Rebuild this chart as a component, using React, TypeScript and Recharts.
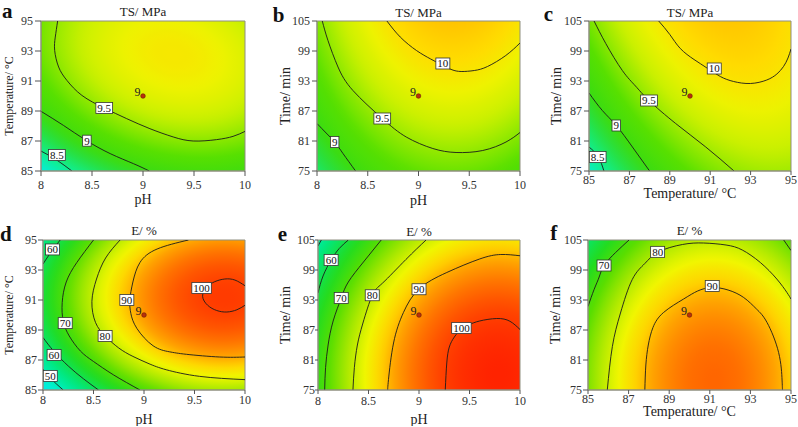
import { CartesianGrid, ComposedChart, Line, ReferenceArea, Scatter, XAxis, YAxis } from 'recharts'

type Pt = { x: number; y: number }
type Tag = { x: number; y: number; label: string }

const pts = (rows: number[][]): Pt[] => rows.map(([x, y]) => ({ x, y }))
const tags = (rows: [number, number, string][]): Tag[] => rows.map(([x, y, label]) => ({ x, y, label }))

const pHTicks = [8, 8.5, 9, 9.5, 10]
const tempTicks = [85, 87, 89, 91, 93, 95]
const timeTicks = [75, 81, 87, 93, 99, 105]

// design centre point (9 replicates)
const centrePhTemp = [{ x: 9, y: 90, n: 9 }]
const centrePhTime = [{ x: 9, y: 90, n: 9 }]
const centreTempTime = [{ x: 90, y: 90, n: 9 }]

// a: TS / MPa, pH x temperature
const tsPhTemp95 = pts([[8.163, 95], [8.14, 93.93], [8.134, 93.04], [8.173, 91.93], [8.254, 91.04], [8.401, 90.04], [8.619, 89.2], [8.84, 88.49], [9.068, 87.82], [9.296, 87.27], [9.492, 87.0], [9.72, 87.09], [9.883, 87.31], [10, 87.64]])
const tsPhTemp90 = pts([[8, 88.98], [8.22, 88.04], [8.443, 87.04], [8.678, 86.16], [8.906, 85.49], [9.062, 85]])
const tsPhTemp85 = pts([[8, 86.33], [8.15, 85.75], [8.303, 85]])
const tsPhTempTags = tags([[8.62, 89.2, '9.5'], [8.45, 87.02, '9'], [8.156, 86.07, '8.5']])

// b: TS / MPa, pH x time
const tsPhTime100 = pts([[8.689, 105], [8.82, 101.8], [8.98, 99.1], [9.12, 97.4], [9.24, 96.1], [9.33, 95.25], [9.42, 94.9], [9.55, 95.1], [9.68, 95.9], [9.86, 98.1], [10, 100.6]])
const tsPhTime95 = pts([[8.052, 105], [8.108, 101.1], [8.207, 95.8], [8.354, 91.1], [8.643, 85.5], [8.879, 81.8], [9.141, 79.5], [9.37, 78.7], [9.633, 79.1], [9.862, 80.8], [10, 82.7]])
const tsPhTime90 = pts([[8, 84.5], [8.09, 82.6], [8.174, 80.8], [8.256, 78.5], [8.38, 75]])
const tsPhTimeTags = tags([[9.24, 96.5, '10'], [8.643, 85.5, '9.5'], [8.174, 80.8, '9']])

// c: TS / MPa, temperature x time
const tsTempTime100 = pts([[88.45, 105], [89.0, 102.3], [89.52, 99.5], [90.2, 97.3], [90.84, 95.6], [91.5, 93.9], [92.16, 92.9], [92.99, 92.5], [93.8, 93.2], [94.3, 94.4], [94.63, 95.9], [94.85, 97.6], [95, 99.4]])
const tsTempTime95 = pts([[85.25, 105], [85.83, 100.5], [86.65, 95.1], [87.3, 92.0], [87.97, 89.1], [89.29, 84.5], [90.78, 79.8], [92.18, 75]])
const tsTempTime90 = pts([[85, 90.6], [85.66, 87.1], [86.35, 84.1], [87.15, 79.8], [88, 75]])
const tsTempTime85 = pts([[85, 79.8], [85.45, 77.9], [85.74, 75]])
const tsTempTimeTags = tags([[91.2, 95.5, '10'], [87.97, 89.1, '9.5'], [86.35, 84.1, '9'], [85.43, 77.8, '8.5']])

// d: E / %, pH x temperature
const ePhTemp100 = pts([[10, 91.95], [9.9, 92.33], [9.8, 92.4], [9.7, 92.22], [9.62, 91.85], [9.58, 91.25], [9.63, 90.65], [9.72, 90.3], [9.82, 90.2], [9.92, 90.35], [10, 90.65]])
const ePhTemp90 = pts([[9.44, 95], [9.13, 94.4], [8.96, 93.5], [8.89, 92.2], [8.86, 91.0], [8.87, 90.1], [8.93, 89.1], [9.09, 87.95], [9.25, 87.55], [9.42, 87.38], [9.75, 87.2], [10, 87.2]])
const ePhTemp80 = pts([[8.763, 95], [8.62, 93.8], [8.53, 92.4], [8.484, 90.9], [8.52, 89.5], [8.615, 88.6], [8.75, 87.8], [8.89, 87.24], [9.05, 86.75], [9.22, 86.35], [9.55, 85.91], [10, 85.69]])
const ePhTemp70 = pts([[8.5, 95], [8.335, 93.5], [8.23, 92.2], [8.19, 90.83], [8.2, 89.6], [8.26, 88.6], [8.37, 87.6], [8.5, 86.9], [8.7, 86.0], [8.96, 85]])
const ePhTemp60a = pts([[8, 93.4], [8.08, 94.2], [8.17, 95]])
const ePhTemp60b = pts([[8, 88.5], [8.105, 87.6], [8.25, 86.6], [8.4, 85.75], [8.55, 85]])
const ePhTemp50 = pts([[8, 86.4], [8.08, 85.75], [8.2, 85]])
const ePhTempTags = tags([[9.57, 91.8, '100'], [8.83, 91.0, '90'], [8.615, 88.6, '80'], [8.22, 89.46, '70'], [8.095, 94.37, '60'], [8.11, 87.34, '60'], [8.072, 85.94, '50']])

// e: E / %, pH x time
const ePhTime100 = pts([[10, 87.1], [9.9, 88.75], [9.77, 89.3], [9.6, 88.8], [9.5, 88.1], [9.42, 87.2], [9.35, 85.6], [9.3, 83.6], [9.275, 80.4], [9.26, 75]])
const ePhTime90 = pts([[10, 101.85], [9.81, 102.1], [9.6, 101.2], [9.275, 98.5], [9.0, 95.2], [8.846, 90.5], [8.748, 84.4], [8.698, 77.1], [8.69, 75]])
const ePhTime80 = pts([[9.07, 105], [8.87, 101.1], [8.64, 96.4], [8.537, 93.95], [8.445, 88.4], [8.39, 84], [8.36, 79.5], [8.346, 75]])
const ePhTime70 = pts([[8.626, 105], [8.45, 100.6], [8.3, 96.6], [8.23, 93.4], [8.15, 88.8], [8.1, 84], [8.075, 79.5], [8.066, 75]])
const ePhTime60 = pts([[8, 94.4], [8.05, 97.8], [8.13, 101], [8.21, 103.3], [8.3, 105]])
const ePhTime50 = pts([[8, 103.8], [8.033, 105]])
const ePhTimeTags = tags([[9.42, 87.4, '100'], [9.0, 95.15, '90'], [8.537, 93.95, '80'], [8.23, 93.4, '70'], [8.13, 101, '60']])

// f: E / %, temperature x time
const eTempTime90 = pts([[87.8, 75], [87.85, 80], [87.97, 84], [88.2, 87.5], [88.72, 90.5], [89.71, 93.2], [90.4, 94.8], [91.1, 95.5], [91.9, 95.0], [92.67, 93.5], [93.3, 91.2], [93.82, 88.5], [94.39, 82.5], [94.56, 77], [94.58, 75]])
const eTempTime80 = pts([[85.95, 75], [86.2, 83.7], [86.6, 90.4], [87.18, 97.1], [87.8, 100.3], [88.46, 102.6], [89.65, 104.1], [90.69, 104.4], [91.8, 104.0], [92.6, 103], [93.49, 100.5], [94.3, 97.2], [94.8, 94.5], [95, 93.2]])
const eTempTime70a = pts([[85, 91.7], [85.3, 95.1], [85.55, 97.6], [85.79, 99.9], [86.36, 102.5], [87.02, 105]])
const eTempTime70b = pts([[94.64, 105], [95, 102.9]])
const eTempTimeTags = tags([[88.43, 102.63, '80'], [91.12, 95.8, '90'], [85.79, 99.9, '70']])

// colour ramps (response value -> colour)
type Ramp = [number, string][]
const tsRamp: Ramp = [[8.1, '#00eef0'], [8.5, '#10ee90'], [8.8, '#28e040'], [9.0, '#3cdc10'], [9.3, '#58e000'], [9.5, '#8ee800'], [9.7, '#c8f000'], [9.9, '#eef200'], [10.05, '#ffdc00'], [10.2, '#ffc000'], [10.3, '#ffae00']]
const eRamp: Ramp = [[35, '#00e4ff'], [45, '#00f0d0'], [55, '#00e880'], [65, '#22dc20'], [72, '#5ade00'], [78, '#a8e800'], [84, '#f0f600'], [88, '#ffd400'], [91, '#ffa800'], [95, '#ff7800'], [100, '#ff4000'], [104, '#ff1e00']]

const FONT = '"Liberation Serif", "Times New Roman", serif'
const W = 266
const H = 213
const FRAME = '#8f8f80'

function hexRgb(h: string) {
  const n = parseInt(h.slice(1), 16)
  return [n >> 16, (n >> 8) & 255, n & 255]
}

function rampColor(ramp: Ramp, v: number) {
  if (v <= ramp[0][0]) return ramp[0][1]
  for (let i = 1; i < ramp.length; i++) {
    if (v <= ramp[i][0]) {
      const t = (v - ramp[i - 1][0]) / (ramp[i][0] - ramp[i - 1][0])
      const a = hexRgb(ramp[i - 1][1])
      const b = hexRgb(ramp[i][1])
      return `rgb(${a.map((c, j) => Math.round(c + (b[j] - c) * t)).join(',')})`
    }
  }
  return ramp[ramp.length - 1][1]
}

type Grad = { cx: number; cy: number; ax: number[]; ay: number[]; r: number; peak: number; drop: number }

function Surface({ id, g, ramp }: { id: string; g: Grad; ramp: Ramp }) {
  const n = 40
  const m = [g.ax[0] * g.r, g.ax[1] * g.r, g.ay[0] * g.r, g.ay[1] * g.r, g.cx, g.cy].join(' ')
  return (
    <radialGradient id={id} gradientUnits="objectBoundingBox" cx={0} cy={0} r={1} gradientTransform={`matrix(${m})`}>
      {Array.from({ length: n + 1 }, (_, i) => {
        const k = (i / n) * g.r
        return <stop key={i} offset={i / n} stopColor={rampColor(ramp, g.peak - k * k * g.drop)} />
      })}
    </radialGradient>
  )
}

function tagWidth(s: string) {
  let w = 0
  for (const ch of s) w += ch === '.' ? 2.75 : 5.5
  return w + 3
}

function ContourTag(props: any) {
  const { cx, cy, payload } = props
  const w = tagWidth(payload.label)
  return (
    <g>
      <rect x={cx - w / 2} y={cy - 5.5} width={w} height={11} fill="#fff" stroke="#333" strokeWidth={0.8} />
      <text x={cx} y={cy + 3.8} textAnchor="middle" fontSize={11} fontFamily={FONT} fill="#111">
        {payload.label}
      </text>
    </g>
  )
}

function CentrePoint(props: any) {
  const { cx, cy, payload } = props
  return (
    <g>
      <circle cx={cx} cy={cy} r={2.3} fill="#b8300c" stroke="#6a1a05" strokeWidth={0.6} />
      <text x={cx - 2.5} y={cy - 0.5} textAnchor="end" fontSize={12} fontFamily={FONT} fill="#222">
        {payload.n}
      </text>
    </g>
  )
}

type PanelSpec = {
  key: string
  pos: [number, number]
  box: { l: number; r: number; t: number; b: number }
  letter: [string, number, number]
  title: [string, number]
  xLabel: [string, number]
  yLabel: [string, number, number]
  xDomain: [number, number]
  yDomain: [number, number]
  xTicks: number[]
  yTicks: number[]
  xTick: [number, number]
  yTick: [number, number]
  lines: Pt[][]
  tags: Tag[]
  centre: { x: number; y: number; n: number }[]
  ramp: Ramp
  grad: Grad
}

const panels: PanelSpec[] = [
  {
    key: 'a', pos: [0, 0], box: { l: 41, r: 245, t: 21, b: 171 },
    letter: ['a', 2, 18.3], title: ['TS/ MPa', 16], xLabel: ['pH', 204], yLabel: ['Temperature/ °C', 12, 13],
    xDomain: [8, 10], yDomain: [85, 95], xTicks: pHTicks, yTicks: tempTicks, xTick: [5, 4], yTick: [6, 2],
    lines: [tsPhTemp95, tsPhTemp90, tsPhTemp85], tags: tsPhTempTags, centre: centrePhTemp, ramp: tsRamp,
    grad: { cx: 0.65, cy: 0.22, ax: [0.49, 0.411], ay: [-0.334, 0.398], r: 2.1, peak: 9.97, drop: 0.469 },
  },
  {
    key: 'b', pos: [266, 0], box: { l: 51, r: 254, t: 21, b: 171 },
    letter: ['b', 6.7, 21.7], title: ['TS/ MPa', 16.5], xLabel: ['pH', 205], yLabel: ['Time/ min', 14, 24],
    xDomain: [8, 10], yDomain: [75, 105], xTicks: pHTicks, yTicks: timeTicks, xTick: [5, 4], yTick: [5, 2],
    lines: [tsPhTime100, tsPhTime95, tsPhTime90], tags: tsPhTimeTags, centre: centrePhTime, ramp: tsRamp,
    grad: { cx: 0.67, cy: -0.5, ax: [0.419, 0], ay: [0, 0.838], r: 2.45, peak: 10.28, drop: 0.2825 },
  },
  {
    key: 'c', pos: [532, 0], box: { l: 57, r: 259, t: 21, b: 171 },
    letter: ['c', 11.7, 20.7], title: ['TS/ MPa', 16.5], xLabel: ['Temperature/ °C', 198], yLabel: ['Time/ min', 14, 29.3],
    xDomain: [85, 95], yDomain: [75, 105], xTicks: tempTicks, yTicks: timeTicks, xTick: [4, 0], yTick: [5, 2],
    lines: [tsTempTime100, tsTempTime95, tsTempTime90, tsTempTime85], tags: tsTempTimeTags, centre: centreTempTime, ramp: tsRamp,
    grad: { cx: 0.62, cy: -0.363, ax: [0.369, 0], ay: [0.1716, 0.78], r: 3.1, peak: 10.207, drop: 0.2075 },
  },
  {
    key: 'd', pos: [0, 213], box: { l: 43, r: 245, t: 27, b: 177 },
    letter: ['d', 0, 28.3], title: ['E/ %', 21.5], xLabel: ['pH', 211], yLabel: ['Temperature/ °C', 12, 13],
    xDomain: [8, 10], yDomain: [85, 95], xTicks: pHTicks, yTicks: tempTicks, xTick: [4, 1], yTick: [5, 1],
    lines: [ePhTemp100, ePhTemp90, ePhTemp80, ePhTemp70, ePhTemp60a, ePhTemp60b, ePhTemp50], tags: ePhTempTags, centre: centrePhTemp, ramp: eRamp,
    grad: { cx: 0.9, cy: 0.38, ax: [0.47, 0], ay: [0, 0.42], r: 2.5, peak: 100.6, drop: 10.4 },
  },
  {
    key: 'e', pos: [266, 213], box: { l: 52, r: 254, t: 27, b: 177 },
    letter: ['e', 11.7, 28.3], title: ['E/ %', 23], xLabel: ['pH', 211], yLabel: ['Time/ min', 14, 24.3],
    xDomain: [8, 10], yDomain: [75, 105], xTicks: pHTicks, yTicks: timeTicks, xTick: [4, 2], yTick: [3, 0],
    lines: [ePhTime100, ePhTime90, ePhTime80, ePhTime70, ePhTime60, ePhTime50], tags: ePhTimeTags, centre: centrePhTime, ramp: eRamp,
    grad: { cx: 0.895, cy: 0.9, ax: [0.549, 0], ay: [0, 0.8], r: 2.1, peak: 103.4, drop: 13.39 },
  },
  {
    key: 'f', pos: [532, 213], box: { l: 56, r: 259, t: 27, b: 177 },
    letter: ['f', 18.3, 26.7], title: ['E/ %', 21.5], xLabel: ['Temperature/ °C', 203], yLabel: ['Time/ min', 14, 27.6],
    xDomain: [85, 95], yDomain: [75, 105], xTicks: tempTicks, yTicks: timeTicks, xTick: [4, 0], yTick: [5, 1],
    lines: [eTempTime90, eTempTime80, eTempTime70a, eTempTime70b], tags: eTempTimeTags, centre: centreTempTime, ramp: eRamp,
    grad: { cx: 0.62, cy: 0.933, ax: [0.34, 0], ay: [0, 0.583], r: 2.5, peak: 96.6, drop: 6.58 },
  },
]

const tickText = { fontSize: 12, fill: '#333', fontFamily: FONT }

function Panel({ p }: { p: PanelSpec }) {
  const { box } = p
  const midX = (box.l + box.r) / 2
  const midY = (box.t + box.b) / 2
  return (
    <div style={{ position: 'absolute', left: p.pos[0], top: p.pos[1], width: W, height: H }}>
      <ComposedChart width={W} height={H} margin={{ top: box.t, right: W - box.r, bottom: H - box.b - 30, left: 0 }}>
        <defs>
          <Surface id={`bg-${p.key}`} g={p.grad} ramp={p.ramp} />
        </defs>
        <CartesianGrid horizontal={false} vertical={false} stroke="none" fill={`url(#bg-${p.key})`} />
        <XAxis
          type="number"
          dataKey="x"
          domain={p.xDomain}
          ticks={p.xTicks}
          interval={0}
          allowDataOverflow
          height={30}
          tick={tickText}
          tickSize={p.xTick[0]}
          tickMargin={p.xTick[1]}
          axisLine={{ stroke: FRAME }}
          tickLine={{ stroke: '#555' }}
        />
        <YAxis
          type="number"
          dataKey="y"
          domain={p.yDomain}
          ticks={p.yTicks}
          interval={0}
          allowDataOverflow
          width={box.l}
          tick={tickText}
          tickSize={p.yTick[0]}
          tickMargin={p.yTick[1]}
          axisLine={{ stroke: FRAME }}
          tickLine={{ stroke: '#555' }}
        />
        {p.lines.map((d, i) => (
          <Line
            key={i}
            data={d}
            dataKey="y"
            type="natural"
            stroke="#1b1b1b"
            strokeWidth={0.9}
            dot={false}
            activeDot={false}
            isAnimationActive={false}
          />
        ))}
        <ReferenceArea
          x1={p.xDomain[0]}
          x2={p.xDomain[1]}
          y1={p.yDomain[0]}
          y2={p.yDomain[1]}
          fill="none"
          fillOpacity={0}
          stroke={FRAME}
          strokeWidth={1}
        />
        <Scatter data={p.tags} shape={ContourTag} isAnimationActive={false} />
        <Scatter data={p.centre} shape={CentrePoint} isAnimationActive={false} />
        <text x={p.letter[1]} y={p.letter[2]} fontSize={21} fontWeight="bold" fontFamily={FONT} fill="#111">
          {p.letter[0]}
        </text>
        <text x={midX} y={p.title[1]} textAnchor="middle" fontSize={13} fontFamily={FONT} fill="#222">
          {p.title[0]}
        </text>
        <text x={midX} y={p.xLabel[1]} textAnchor="middle" fontSize={14} fontFamily={FONT} fill="#222">
          {p.xLabel[0]}
        </text>
        <text
          transform={`translate(${p.yLabel[2]},${midY}) rotate(-90)`}
          textAnchor="middle"
          fontSize={p.yLabel[1]}
          fontFamily={FONT}
          fill="#222"
        >
          {p.yLabel[0]}
        </text>
      </ComposedChart>
    </div>
  )
}

export default function App() {
  return (
    <div style={{ position: 'absolute', left: 0, top: 0, width: 798, height: 427, background: '#fff', overflow: 'hidden' }}>
      {panels.map((p) => (
        <Panel key={p.key} p={p} />
      ))}
    </div>
  )
}
